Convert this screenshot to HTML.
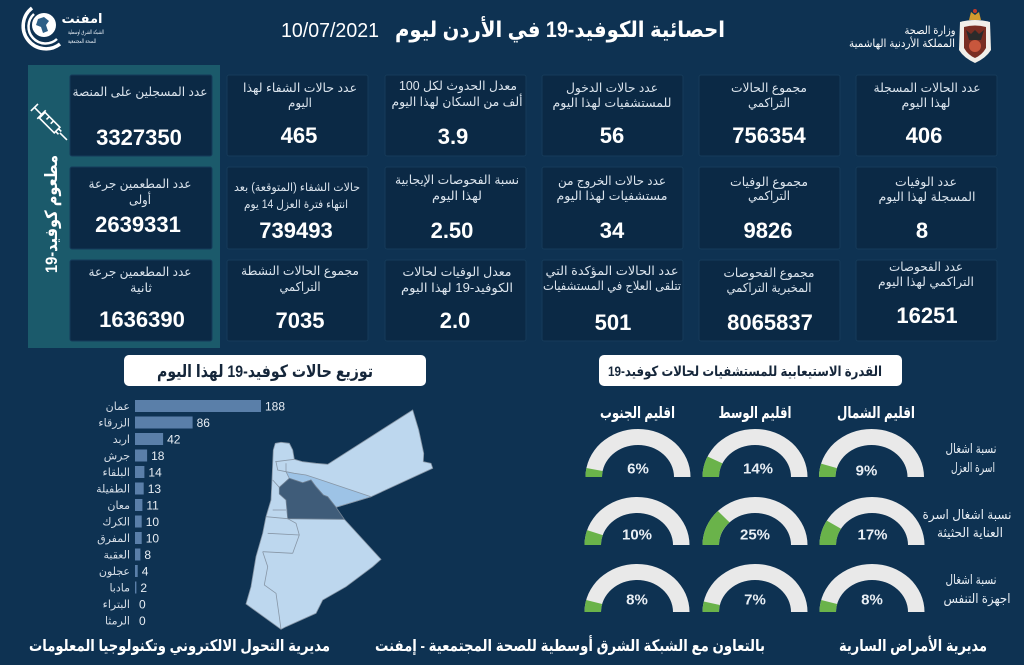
<!DOCTYPE html>
<html><head><meta charset="utf-8"><style>
html,body{margin:0;padding:0;background:#0e3252;}
svg{display:block;}
text{font-family:"Liberation Sans","DejaVu Sans",sans-serif;}
</style></head><body>
<svg width="1024" height="665" viewBox="0 0 1024 665" xmlns="http://www.w3.org/2000/svg">
<rect x="0" y="0" width="1024" height="665" fill="#0e3252"/>

<!-- Header left logo -->
<g>
<path d="M32,8 A22,22 0 1 0 60,44" fill="none" stroke="#fff" stroke-width="3.5"/>
<path d="M34,14 A16,16 0 1 0 57,39" fill="none" stroke="#fff" stroke-width="2.5"/>
<circle cx="44" cy="25" r="12" fill="#fff"/>
<path d="M38,19 L44,17 L49,21 L46,25 L48,31 L43,33 L41,27 L36,25 Z" fill="#2d5f86"/>
</g>
<text x="82" y="23" font-size="13" fill="#fff" text-anchor="middle" font-weight="bold">امفنت</text>
<text x="86" y="34" font-size="6" fill="#dfe7ef" text-anchor="middle" textLength="36" lengthAdjust="spacingAndGlyphs">الشبكة الشرق اوسطية</text>
<text x="82" y="43" font-size="6" fill="#dfe7ef" text-anchor="middle" textLength="28" lengthAdjust="spacingAndGlyphs">للصحة المجتمعية</text>

<!-- Header title -->
<text x="560" y="37" font-size="22" font-weight="bold" fill="#fff" text-anchor="middle" textLength="330" lengthAdjust="spacingAndGlyphs">احصائية الكوفيد-19 في الأردن ليوم</text>
<text x="330" y="37" font-size="20" fill="#fff" text-anchor="middle" textLength="98" lengthAdjust="spacingAndGlyphs">10/07/2021</text>

<!-- Header right -->
<text x="930" y="34" font-size="11" fill="#fff" text-anchor="middle" textLength="51" lengthAdjust="spacingAndGlyphs">وزارة الصحة</text>
<text x="902" y="47" font-size="11" fill="#fff" text-anchor="middle" textLength="106" lengthAdjust="spacingAndGlyphs">المملكة الأردنية الهاشمية</text>
<g>
<path d="M969,20 L971,12 L975,15 L979,12 L981,20 Z" fill="#d39a2e"/>
<circle cx="975" cy="11" r="2" fill="#c0392b"/>
<path d="M960,22 Q975,18 990,22 L991,50 Q986,58 975,63 Q964,58 959,50 Z" fill="#f2efe9"/>
<path d="M964,27 Q975,24 986,27 L986,48 Q982,55 975,58 Q968,55 964,48 Z" fill="#7a2e22"/>
<path d="M966,30 L971,34 L975,30 L979,34 L984,30 L981,40 L969,40 Z" fill="#2b2b2b"/>
<circle cx="975" cy="46" r="6" fill="#c8573d"/>
</g>

<!-- Vaccine panel -->
<rect x="28" y="65" width="192" height="283" fill="#1b5a6b"/>
<g transform="translate(50,123) rotate(45)" fill="none" stroke="#fff" stroke-width="1.6">
<line x1="-22" y1="-5" x2="-22" y2="5"/>
<line x1="-22" y1="0" x2="-12" y2="0"/>
<line x1="-12" y1="-6" x2="-12" y2="6"/>
<rect x="-11" y="-4" width="21" height="8"/>
<line x1="-5" y1="-4" x2="-5" y2="0"/>
<line x1="1" y1="-4" x2="1" y2="0"/>
<line x1="10" y1="-2" x2="14" y2="-2"/>
<line x1="10" y1="2" x2="14" y2="2"/>
<line x1="14" y1="0" x2="24" y2="0"/>
</g>
<text transform="translate(57,214) rotate(-90)" x="0" y="0" font-size="17" font-weight="bold" fill="#fff" text-anchor="middle" textLength="118" lengthAdjust="spacingAndGlyphs">مطعوم كوفيد-19</text>

<!-- Cards -->
<g fill="#0b2945" stroke="#163b5a" stroke-width="1">
<rect x="70" y="75" width="142" height="81" rx="2"/>
<rect x="70" y="167" width="142" height="82" rx="2"/>
<rect x="70" y="260" width="142" height="81" rx="2"/>
<rect x="227" y="75" width="141" height="81" rx="2"/>
<rect x="227" y="167" width="141" height="82" rx="2"/>
<rect x="227" y="260" width="141" height="81" rx="2"/>
<rect x="385" y="75" width="141" height="81" rx="2"/>
<rect x="385" y="167" width="141" height="82" rx="2"/>
<rect x="385" y="260" width="141" height="81" rx="2"/>
<rect x="542" y="75" width="141" height="81" rx="2"/>
<rect x="542" y="167" width="141" height="82" rx="2"/>
<rect x="542" y="260" width="141" height="81" rx="2"/>
<rect x="699" y="75" width="141" height="81" rx="2"/>
<rect x="699" y="167" width="141" height="82" rx="2"/>
<rect x="699" y="260" width="141" height="81" rx="2"/>
<rect x="856" y="75" width="141" height="81" rx="2"/>
<rect x="856" y="167" width="141" height="82" rx="2"/>
<rect x="856" y="260" width="141" height="81" rx="2"/>
</g>

<g font-size="12.5" fill="#dbe4ed" text-anchor="middle">
<text x="140" y="96" textLength="135" lengthAdjust="spacingAndGlyphs">عدد المسجلين على المنصة</text>
<text x="140" y="188" textLength="103" lengthAdjust="spacingAndGlyphs">عدد المطعمين جرعة</text>
<text x="140" y="204" textLength="22" lengthAdjust="spacingAndGlyphs">أولى</text>
<text x="140" y="276" textLength="103" lengthAdjust="spacingAndGlyphs">عدد المطعمين جرعة</text>
<text x="141" y="292" textLength="22" lengthAdjust="spacingAndGlyphs">ثانية</text>
<text x="300" y="92" textLength="114" lengthAdjust="spacingAndGlyphs">عدد حالات الشفاء لهذا</text>
<text x="300" y="107" textLength="24" lengthAdjust="spacingAndGlyphs">اليوم</text>
<text x="297" y="191" font-size="11.5" textLength="126" lengthAdjust="spacingAndGlyphs">حالات الشفاء (المتوقعة) بعد</text>
<text x="296" y="208" font-size="11.5" textLength="104" lengthAdjust="spacingAndGlyphs">انتهاء فترة العزل 14 يوم</text>
<text x="300" y="275" textLength="118" lengthAdjust="spacingAndGlyphs">مجموع الحالات النشطة</text>
<text x="300" y="291" textLength="41" lengthAdjust="spacingAndGlyphs">التراكمي</text>
<text x="458" y="90" textLength="118" lengthAdjust="spacingAndGlyphs">معدل الحدوث لكل 100</text>
<text x="457" y="106" textLength="131" lengthAdjust="spacingAndGlyphs">ألف من السكان لهذا اليوم</text>
<text x="457" y="184" textLength="124" lengthAdjust="spacingAndGlyphs">نسبة الفحوصات الإيجابية</text>
<text x="457" y="200" textLength="50" lengthAdjust="spacingAndGlyphs">لهذا اليوم</text>
<text x="457" y="276" textLength="109" lengthAdjust="spacingAndGlyphs">معدل الوفيات لحالات</text>
<text x="457" y="292" textLength="112" lengthAdjust="spacingAndGlyphs">الكوفيد-19 لهذا اليوم</text>
<text x="612" y="92" textLength="92" lengthAdjust="spacingAndGlyphs">عدد حالات الدخول</text>
<text x="612" y="107" textLength="119" lengthAdjust="spacingAndGlyphs">للمستشفيات لهذا اليوم</text>
<text x="612" y="185" textLength="108" lengthAdjust="spacingAndGlyphs">عدد حالات الخروج من</text>
<text x="612" y="200" textLength="111" lengthAdjust="spacingAndGlyphs">مستشفيات لهذا اليوم</text>
<text x="612" y="275" textLength="133" lengthAdjust="spacingAndGlyphs">عدد الحالات المؤكدة التي</text>
<text x="612" y="290" textLength="138" lengthAdjust="spacingAndGlyphs">تتلقى العلاج في المستشفيات</text>
<text x="769" y="92" textLength="76" lengthAdjust="spacingAndGlyphs">مجموع الحالات</text>
<text x="769" y="107" textLength="42" lengthAdjust="spacingAndGlyphs">التراكمي</text>
<text x="769" y="186" textLength="78" lengthAdjust="spacingAndGlyphs">مجموع الوفيات</text>
<text x="769" y="200" textLength="42" lengthAdjust="spacingAndGlyphs">التراكمي</text>
<text x="769" y="277" textLength="91" lengthAdjust="spacingAndGlyphs">مجموع الفحوصات</text>
<text x="769" y="292" textLength="85" lengthAdjust="spacingAndGlyphs">المخبرية التراكمي</text>
<text x="927" y="92" textLength="107" lengthAdjust="spacingAndGlyphs">عدد الحالات المسجلة</text>
<text x="926" y="107" textLength="49" lengthAdjust="spacingAndGlyphs">لهذا اليوم</text>
<text x="926" y="186" textLength="62" lengthAdjust="spacingAndGlyphs">عدد الوفيات</text>
<text x="927" y="201" textLength="97" lengthAdjust="spacingAndGlyphs">المسجلة لهذا اليوم</text>
<text x="926" y="271" textLength="74" lengthAdjust="spacingAndGlyphs">عدد الفحوصات</text>
<text x="926" y="286" textLength="96" lengthAdjust="spacingAndGlyphs">التراكمي لهذا اليوم</text>
</g>

<g font-size="22" font-weight="bold" fill="#fff" text-anchor="middle">
<text x="139" y="145">3327350</text>
<text x="138" y="232">2639331</text>
<text x="142" y="327">1636390</text>
<text x="299" y="143">465</text>
<text x="296" y="238">739493</text>
<text x="300" y="328">7035</text>
<text x="453" y="144">3.9</text>
<text x="452" y="238">2.50</text>
<text x="455" y="328">2.0</text>
<text x="612" y="143">56</text>
<text x="612" y="238">34</text>
<text x="613" y="330">501</text>
<text x="769" y="143">756354</text>
<text x="768" y="238">9826</text>
<text x="770" y="330">8065837</text>
<text x="924" y="143">406</text>
<text x="922" y="238">8</text>
<text x="927" y="323">16251</text>
</g>

<!-- Section title boxes -->
<rect x="124" y="355" width="302" height="31" rx="5" fill="#ffffff"/>
<text x="265" y="377" font-size="17" font-weight="bold" fill="#15263a" text-anchor="middle" textLength="216" lengthAdjust="spacingAndGlyphs">توزيع حالات كوفيد-19 لهذا اليوم</text>
<rect x="599" y="355" width="303" height="31" rx="5" fill="#ffffff"/>
<text x="745" y="376" font-size="14" font-weight="bold" fill="#15263a" text-anchor="middle" textLength="274" lengthAdjust="spacingAndGlyphs">القدرة الاستيعابية للمستشفيات لحالات كوفيد-19</text>

<!-- Bar chart -->
<g fill="#5a7fa9">
<rect x="135" y="400" width="126" height="12"/>
<rect x="135" y="416.5" width="57.6" height="12"/>
<rect x="135" y="433" width="28.1" height="12"/>
<rect x="135" y="449.5" width="12.1" height="12"/>
<rect x="135" y="466" width="9.4" height="12"/>
<rect x="135" y="482.5" width="8.7" height="12"/>
<rect x="135" y="499" width="7.4" height="12"/>
<rect x="135" y="515.5" width="6.7" height="12"/>
<rect x="135" y="532" width="6.7" height="12"/>
<rect x="135" y="548.5" width="5.4" height="12"/>
<rect x="135" y="565" width="2.7" height="12"/>
<rect x="135" y="581.5" width="1.4" height="12"/>
</g>
<g font-size="11" fill="#d6dee7" text-anchor="end">
<text x="130" y="410">عمان</text>
<text x="130" y="426.5">الزرقاء</text>
<text x="130" y="443">اربد</text>
<text x="130" y="459.5">جرش</text>
<text x="130" y="476">البلقاء</text>
<text x="130" y="492.5">الطفيلة</text>
<text x="130" y="509">معان</text>
<text x="130" y="525.5">الكرك</text>
<text x="130" y="542">المفرق</text>
<text x="130" y="558.5">العقبة</text>
<text x="130" y="575">عجلون</text>
<text x="130" y="591.5">مادبا</text>
<text x="130" y="608">البتراء</text>
<text x="130" y="624.5">الرمثا</text>
</g>
<g font-size="12" fill="#e8eef4">
<text x="265" y="410.5">188</text>
<text x="196.6" y="427">86</text>
<text x="167.1" y="443.5">42</text>
<text x="151.1" y="460">18</text>
<text x="148.4" y="476.5">14</text>
<text x="147.7" y="493">13</text>
<text x="146.4" y="509.5">11</text>
<text x="145.7" y="526">10</text>
<text x="145.7" y="542.5">10</text>
<text x="144.4" y="559">8</text>
<text x="141.7" y="575.5">4</text>
<text x="140.4" y="592">2</text>
<text x="139" y="608.5">0</text>
<text x="139" y="625">0</text>
</g>

<!-- Map -->
<path d="M273.3,450 L275.3,443.3 L281,442.3 L289.3,443.3 L292.7,450 L294.3,459.3 L302.7,461.7 L316,463.3 L327.7,464.3 L412.7,410 L418.7,430 L423.7,453.3 L423.3,461.7 L431,463.3 L432.7,468.3 L371,496.7 L336,507.3 L344.3,519.3 L381,559.3 L372.7,566.7 L346,586.7 L322.7,600 L316,613.3 L286,626.7 L281,629.3 L246,604 L251,586.7 L256,556.7 L262.7,533.3 L266,516.7 L271,500 L272,480 L272.7,463.3 Z" fill="#bdd7ee" stroke="#8796a6" stroke-width="0.8"/>
<path d="M286,471.7 L294.3,473.3 L306,475 L316,478.3 L371,496.7 L336,507.3 L327.7,496.7 L323.3,495 L316,486.7 L311,480 L302.7,482.7 L289.3,478.3 Z" fill="#9dc3e6" stroke="#8796a6" stroke-width="0.8"/>
<path d="M279.3,487.3 L289.3,478.3 L302.7,482.7 L311,480 L316,486.7 L323.3,495 L327.7,496.7 L336,507.3 L344.3,519.3 L287.7,518.7 L286,500 L279.3,494 Z" fill="#3f5c79" stroke="#6d7f92" stroke-width="0.8"/>
<g fill="none" stroke="#8796a6" stroke-width="0.8">
<path d="M275.3,461.7 L294.3,459.3"/>
<path d="M276,461.7 L277.7,470 L286,471.7"/>
<path d="M286,463.3 L286,471.7"/>
<path d="M272.7,480 L279.3,487.3"/>
<path d="M272.7,510 L286,510"/>
<path d="M266,516.7 L287.7,518.7"/>
<path d="M287.7,518.7 L296,523.3 L299.3,535"/>
<path d="M267.7,533.3 L299.3,535"/>
<path d="M299.3,535 L292.7,553.3"/>
<path d="M262.7,551.7 L292.7,553.3"/>
<path d="M262.7,551.7 L267.7,566.7 L264.3,585 L276,593.3 L279.3,616.7 L281,629.3"/>
</g>

<!-- Gauges region headers -->
<g font-size="16" font-weight="bold" fill="#fff" text-anchor="middle">
<text x="876" y="418" textLength="78" lengthAdjust="spacingAndGlyphs">اقليم الشمال</text>
<text x="755" y="418" textLength="73" lengthAdjust="spacingAndGlyphs">اقليم الوسط</text>
<text x="637.5" y="418" textLength="75" lengthAdjust="spacingAndGlyphs">اقليم الجنوب</text>
</g>
<g font-size="13" fill="#e8eef4" text-anchor="middle">
<text x="971" y="453" textLength="51" lengthAdjust="spacingAndGlyphs">نسبة اشغال</text>
<text x="973" y="472" textLength="44" lengthAdjust="spacingAndGlyphs">اسرة العزل</text>
<text x="967" y="519" textLength="89" lengthAdjust="spacingAndGlyphs">نسبة اشغال اسرة</text>
<text x="970" y="537" textLength="66" lengthAdjust="spacingAndGlyphs">العناية الحثيثة</text>
<text x="971" y="584" textLength="51" lengthAdjust="spacingAndGlyphs">نسبة اشغال</text>
<text x="977" y="603" textLength="67" lengthAdjust="spacingAndGlyphs">اجهزة التنفس</text>
</g>

<!-- Gauges -->
<g>
<g transform="translate(638,477)">
<path d="M-52.5,0 A52.5,48 0 0 1 52.5,0 L36,0 A36,32 0 0 0 -36,0 Z" fill="#e9e9e9"/>
<path d="M-52.5,0 A52.5,48 0 0 1 -51.57,-9 L-35.36,-6 A36,32 0 0 0 -36,0 Z" fill="#6ab34a"/>
<text x="0" y="-3.5" font-size="15" font-weight="bold" fill="#e8eef4" text-anchor="middle">6%</text>
</g>
<g transform="translate(755,477)">
<path d="M-52.5,0 A52.5,48 0 0 1 52.5,0 L36,0 A36,32 0 0 0 -36,0 Z" fill="#e9e9e9"/>
<path d="M-52.5,0 A52.5,48 0 0 1 -47.5,-20.44 L-32.57,-13.63 A36,32 0 0 0 -36,0 Z" fill="#6ab34a"/>
<text x="3" y="-3.5" font-size="15" font-weight="bold" fill="#e8eef4" text-anchor="middle">14%</text>
</g>
<g transform="translate(871.5,477)">
<path d="M-52.5,0 A52.5,48 0 0 1 52.5,0 L36,0 A36,32 0 0 0 -36,0 Z" fill="#e9e9e9"/>
<path d="M-52.5,0 A52.5,48 0 0 1 -50.42,-13.39 L-34.57,-8.93 A36,32 0 0 0 -36,0 Z" fill="#6ab34a"/>
<text x="-5" y="-1.5" font-size="15" font-weight="bold" fill="#e8eef4" text-anchor="middle">9%</text>
</g>
<g transform="translate(637,545)">
<path d="M-52.5,0 A52.5,48 0 0 1 52.5,0 L36,0 A36,32 0 0 0 -36,0 Z" fill="#e9e9e9"/>
<path d="M-52.5,0 A52.5,48 0 0 1 -49.93,-14.83 L-34.24,-9.89 A36,32 0 0 0 -36,0 Z" fill="#6ab34a"/>
<text x="0" y="-5.5" font-size="15" font-weight="bold" fill="#e8eef4" text-anchor="middle">10%</text>
</g>
<g transform="translate(755,545)">
<path d="M-52.5,0 A52.5,48 0 0 1 52.5,0 L36,0 A36,32 0 0 0 -36,0 Z" fill="#e9e9e9"/>
<path d="M-52.5,0 A52.5,48 0 0 1 -37.12,-33.94 L-25.46,-22.63 A36,32 0 0 0 -36,0 Z" fill="#6ab34a"/>
<text x="0" y="-5.5" font-size="15" font-weight="bold" fill="#e8eef4" text-anchor="middle">25%</text>
</g>
<g transform="translate(872,545)">
<path d="M-52.5,0 A52.5,48 0 0 1 52.5,0 L36,0 A36,32 0 0 0 -36,0 Z" fill="#e9e9e9"/>
<path d="M-52.5,0 A52.5,48 0 0 1 -45.19,-24.43 L-30.99,-16.29 A36,32 0 0 0 -36,0 Z" fill="#6ab34a"/>
<text x="0.5" y="-5.5" font-size="15" font-weight="bold" fill="#e8eef4" text-anchor="middle">17%</text>
</g>
<g transform="translate(637,612)">
<path d="M-52.5,0 A52.5,48 0 0 1 52.5,0 L36,0 A36,32 0 0 0 -36,0 Z" fill="#e9e9e9"/>
<path d="M-52.5,0 A52.5,48 0 0 1 -50.85,-11.94 L-34.87,-7.96 A36,32 0 0 0 -36,0 Z" fill="#6ab34a"/>
<text x="0" y="-7.3" font-size="15" font-weight="bold" fill="#e8eef4" text-anchor="middle">8%</text>
</g>
<g transform="translate(755,612)">
<path d="M-52.5,0 A52.5,48 0 0 1 52.5,0 L36,0 A36,32 0 0 0 -36,0 Z" fill="#e9e9e9"/>
<path d="M-52.5,0 A52.5,48 0 0 1 -51.24,-10.47 L-35.13,-6.98 A36,32 0 0 0 -36,0 Z" fill="#6ab34a"/>
<text x="0" y="-7.3" font-size="15" font-weight="bold" fill="#e8eef4" text-anchor="middle">7%</text>
</g>
<g transform="translate(872,612)">
<path d="M-52.5,0 A52.5,48 0 0 1 52.5,0 L36,0 A36,32 0 0 0 -36,0 Z" fill="#e9e9e9"/>
<path d="M-52.5,0 A52.5,48 0 0 1 -50.85,-11.94 L-34.87,-7.96 A36,32 0 0 0 -36,0 Z" fill="#6ab34a"/>
<text x="0" y="-7.3" font-size="15" font-weight="bold" fill="#e8eef4" text-anchor="middle">8%</text>
</g>
</g>

<!-- Footer -->
<g font-size="16" font-weight="bold" fill="#fff" text-anchor="middle">
<text x="179.5" y="651" textLength="301" lengthAdjust="spacingAndGlyphs">مديرية التحول الالكتروني وتكنولوجيا المعلومات</text>
<text x="570" y="651" textLength="390" lengthAdjust="spacingAndGlyphs">بالتعاون مع الشبكة الشرق أوسطية للصحة المجتمعية - إمفنت</text>
<text x="913" y="651" textLength="148" lengthAdjust="spacingAndGlyphs">مديرية الأمراض السارية</text>
</g>
</svg>
</body></html>
